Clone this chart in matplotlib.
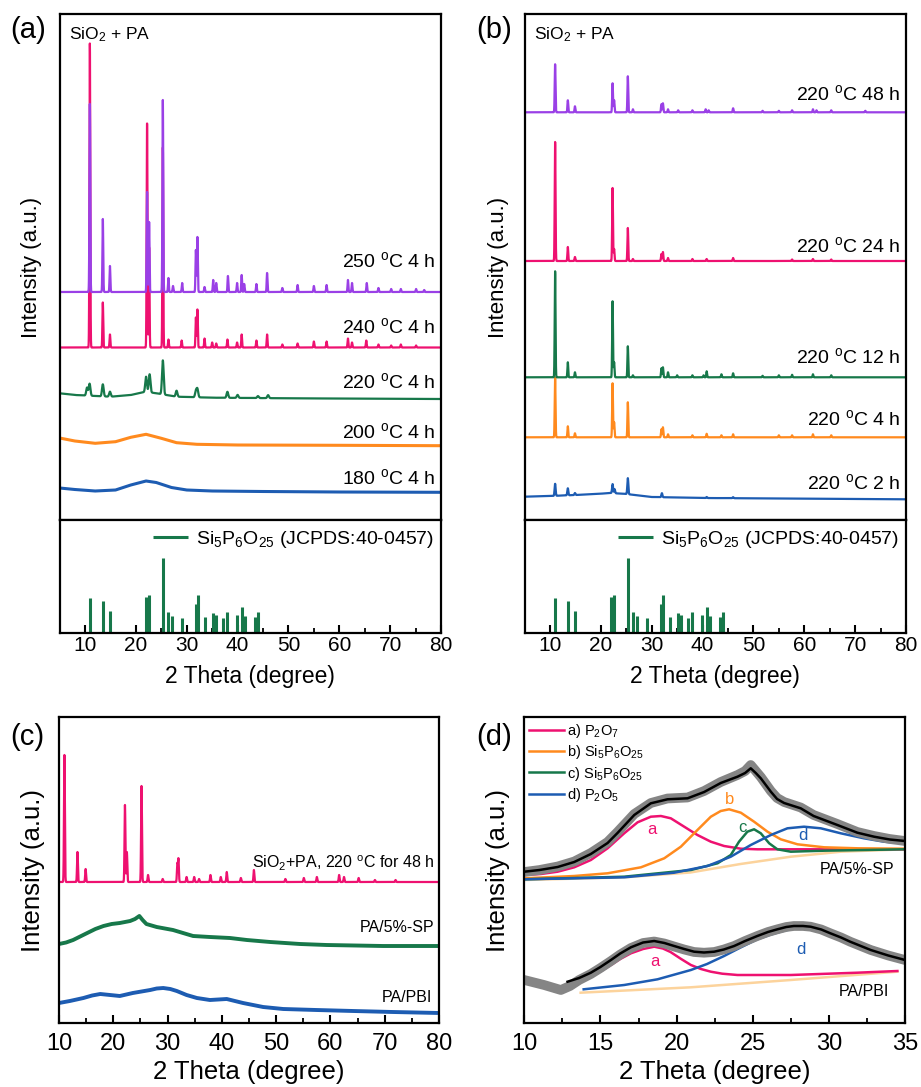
import numpy as np
import matplotlib
matplotlib.use('Agg')
import matplotlib.pyplot as plt
from matplotlib.ticker import MultipleLocator

plt.rcParams['font.family'] = ['Liberation Sans', 'DejaVu Sans']
plt.rcParams['mathtext.fontset'] = 'custom'
plt.rcParams['mathtext.rm'] = 'Liberation Sans'
plt.rcParams['mathtext.it'] = 'Liberation Sans:italic'
plt.rcParams['mathtext.bf'] = 'Liberation Sans:bold'

PURPLE = '#9a40e6'
PINK = '#ee1170'
GREEN = '#17784a'
ORANGE = '#ff8a1e'
BLUE = '#1d5cb2'
LIGHT_ORANGE = '#fcd39c'
GRAY = '#858585'

# ---------------- panel (a): SiO2 + PA, 4 h at different temperatures
A180_BASE_X = [5, 8, 12, 16, 19, 22, 24, 27, 30, 35, 45, 60, 80]
A180_BASE_Y = [32, 30.5, 29, 30, 35, 39, 37.5, 32.5, 30, 29, 28.5, 28, 27.7]
A200_BASE_X = [5, 8, 12, 16, 19, 22, 25, 28, 32, 40, 60, 80]
A200_BASE_Y = [82, 79, 76.7, 78.3, 82.7, 85.7, 81.7, 77.3, 75.7, 75, 74.7, 74.3]
A220_BASE_X = [5, 8, 15, 19, 22, 24, 28, 35, 50, 80]
A220_BASE_Y = [126.7, 125, 123.3, 125, 128.3, 126.7, 123.3, 122.3, 121.7, 121]
A220_PEAKS = [(10.4, 8), (10.9, 12), (13.5, 12), (14.9, 5), (22.0, 15), (22.7, 18),
              (25.3, 34), (28.0, 6), (31.8, 6), (32.1, 8), (38.0, 6), (40.0, 3),
              (44.0, 2), (46.0, 3)]
A240_BASE = 172.5
A240_PEAKS = [(10.95, 304), (13.5, 45), (14.9, 13), (22.2, 224), (22.6, 100), (25.3, 200),
              (26.4, 8), (29.0, 7), (31.8, 30), (32.1, 38), (33.5, 9), (35.0, 5),
              (35.8, 4), (38.0, 8), (39.9, 5), (40.8, 13), (43.7, 7), (45.8, 13),
              (48.8, 3), (51.8, 4), (55.0, 6), (57.5, 6), (61.7, 9), (62.5, 5),
              (65.3, 7), (67.7, 3), (70.2, 2), (72.1, 3), (75.1, 2)]
A250_BASE = 228
A250_PEAKS = [(10.95, 188), (13.5, 73), (14.9, 26), (22.2, 100), (22.6, 70), (25.3, 192),
              (26.4, 14), (27.3, 6), (29.1, 9), (31.8, 42), (32.1, 55), (33.5, 5),
              (35.2, 12), (35.8, 9), (38.1, 16), (39.9, 9), (40.8, 17), (41.3, 8),
              (43.7, 8), (45.8, 19), (48.8, 4), (51.8, 7), (55.0, 6), (57.5, 7),
              (61.7, 12), (62.5, 9), (65.4, 9), (67.7, 4), (70.2, 3), (72.1, 3),
              (75.1, 3), (76.7, 2)]
A_LABELS = ['180 $^{\\mathrm{o}}$C 4 h', '200 $^{\\mathrm{o}}$C 4 h', '220 $^{\\mathrm{o}}$C 4 h',
            '240 $^{\\mathrm{o}}$C 4 h', '250 $^{\\mathrm{o}}$C 4 h']
A_LABEL_Y = [42, 88, 138, 193, 259]

# ---------------- panel (b): SiO2 + PA, 220 C for different times
B2_BASE_X = [5, 10, 15, 19, 22, 25, 30, 40, 80]
B2_BASE_Y = [23.3, 24, 25, 26, 27, 26, 23, 22, 20.7]
B2_PEAKS = [(11.0, 12), (13.5, 7), (14.9, 2), (22.3, 9), (22.7, 4), (25.3, 16),
            (32.0, 4), (40.8, 1), (46.0, 1)]
B4_BASE = 82.7
B4_PEAKS = [(11.0, 60), (13.5, 11), (14.9, 4), (22.3, 54), (22.6, 15), (25.3, 35),
            (31.9, 8), (32.2, 10), (33.2, 3), (38.0, 2), (40.8, 3.5), (43.7, 2),
            (46.0, 3), (55.0, 2), (57.6, 2), (61.7, 3), (65.3, 2)]
B12_BASE = 142.7
B12_PEAKS = [(11.0, 106), (13.5, 15), (14.9, 5), (22.3, 76), (22.6, 15), (25.3, 31),
             (26.3, 2), (31.9, 9), (32.2, 10), (33.2, 5), (35.0, 2), (38.0, 2),
             (40.2, 2), (40.8, 6), (43.7, 3), (46.0, 4), (51.8, 1.5), (55.0, 2),
             (57.6, 2.5), (61.7, 3), (65.3, 2)]
B24_BASE = 259
B24_PEAKS = [(11.0, 119), (13.5, 14), (14.9, 4), (22.3, 73), (22.6, 12), (25.3, 33),
             (26.3, 2), (31.9, 7), (32.2, 9), (33.2, 3), (38.0, 2), (40.8, 2),
             (46.0, 3), (57.6, 1.5), (61.7, 2), (65.3, 1.5)]
B48_BASE = 407.7
B48_PEAKS = [(11.0, 48), (13.5, 12), (14.9, 6), (22.3, 29), (22.6, 12), (25.3, 36),
             (26.3, 3), (31.9, 8), (32.2, 9), (33.2, 3), (35.2, 2), (38.0, 2),
             (40.6, 3), (41.2, 2), (46.0, 4), (51.8, 1.5), (55.0, 1.5), (57.6, 2),
             (61.7, 3), (62.4, 2), (65.3, 2), (72.0, 1.5)]
B_LABELS = ['220 $^{\\mathrm{o}}$C 2 h', '220 $^{\\mathrm{o}}$C 4 h', '220 $^{\\mathrm{o}}$C 12 h',
            '220 $^{\\mathrm{o}}$C 24 h', '220 $^{\\mathrm{o}}$C 48 h']
B_LABEL_Y = [37, 101, 163, 274, 426]

# reference pattern Si5P6O25 (JCPDS 40-0457)
REF_POS = [10.9, 13.5, 14.9, 22.0, 22.5, 25.3, 26.3, 27.1, 29.1, 31.9, 32.2, 33.5,
           35.1, 35.8, 37.2, 38.0, 39.9, 40.8, 41.4, 43.5, 44.1]
REF_INT = [35, 32, 22, 36, 38, 75, 21, 17, 15, 29, 38, 16, 20, 18, 15, 21, 18, 26,
           17, 16, 21]

# ---------------- panel (c)
C_SP_BASE = 141
C_SP_PEAKS = [(11.0, 127), (13.4, 30), (14.9, 13), (22.15, 77), (22.5, 30), (25.2, 96),
              (26.4, 7), (29.1, 3), (31.8, 18), (32.0, 23), (33.5, 5), (34.9, 5),
              (35.8, 3), (37.9, 7), (39.8, 5), (40.9, 10), (43.5, 4), (45.9, 12),
              (51.7, 3), (55.1, 4), (57.5, 5), (61.6, 7), (62.5, 5), (65.2, 4),
              (68.2, 2), (72.0, 2)]
C_PASP_X = [10, 11.3, 12.6, 13.9, 15.2, 16.7, 18.2, 19.7, 21.2, 23.1, 24.0, 24.8, 25.4,
            26.1, 28, 31, 34.7, 37.8, 41.5, 44.6, 48.9, 54.4, 59.3, 69.7, 80]
C_PASP_Y = [79, 80.5, 83, 86.5, 90, 94, 97, 99, 100, 102, 104, 107, 103, 99, 96, 93, 87,
            86, 85, 83, 81, 79, 78, 77, 77]
C_PBI_X = [10, 12, 14.5, 16.1, 17.6, 19.4, 21.2, 23.6, 25.2, 26.8, 28.0, 29.2, 30.5,
           31.7, 33.5, 35.4, 37.8, 40.9, 43.9, 47.6, 51.3, 57.4, 64.2, 71.5, 80]
C_PBI_Y = [20, 22, 25, 27.5, 29, 28, 27, 30, 31.5, 33, 34.5, 35, 34, 32, 28, 25, 23, 24,
           20, 16, 14, 13, 12, 11, 10]

# ---------------- panel (d): peak fitting, PA/5%-SP (upper) and PA/PBI (lower)
D_SP_X = [10, 11.0, 12.19, 13.28, 14.37, 15.47, 16.12, 17.22, 18.31, 19.4, 20.72, 21.81,
          22.9, 24.0, 24.5, 24.87, 25.2, 25.53, 26.19, 26.6, 27.06, 28.15, 29.0, 30.56,
          31.87, 32.97, 34.0, 35]
D_SP_FIT_Y = [151.3, 153, 156, 161, 169, 180, 190, 208, 219.7, 223.7, 224.7, 231, 240,
              246.3, 250, 254.7, 250, 244.7, 231.3, 224, 220, 214.7, 207, 198, 190.3,
              186.3, 183.5, 182]
D_SP_RAW_Y = [151, 153, 156.5, 161.5, 170, 181, 191, 209, 220, 224.5, 225.5, 232, 241,
              248, 252, 258, 252, 246, 232, 225, 221, 215.5, 208, 199, 191, 187, 184,
              182]
D_SP_BG_X = [10, 16.6, 20.9, 24.2, 27.5, 30.8, 35]
D_SP_BG_Y = [143, 145.7, 150.5, 159, 166.3, 171.3, 173.7]
D_SP_A_X = [10, 11.09, 12.19, 13.28, 14.37, 15.47, 16.56, 17.44, 18.31, 18.97, 19.62,
            20.5, 21.37, 22.25, 23.12, 24.22, 25.3, 35]
D_SP_A_Y = [148, 149, 151.3, 155.7, 163, 174.7, 189.7, 200.7, 206.3, 207, 204.7, 196.3,
            188, 181.3, 177, 174.3, 173.7, 173.7]
D_SP_B_X = [10, 13.28, 15.47, 17.66, 19.19, 20.28, 21.37, 22.25, 22.9, 23.45, 24.22,
            25.09, 25.97, 26.84, 27.94, 29.69, 31.9, 35]
D_SP_B_Y = [144.7, 147, 149.7, 155.7, 164.7, 176.3, 193, 206.3, 212, 213.7, 210.3, 201.3,
            191.3, 183.7, 178.7, 175.7, 174.7, 174.3]
D_SP_C_X = [10, 16.56, 20.94, 22.69, 23.56, 24.1, 24.65, 25.09, 25.53, 26.08, 26.62,
            27.5, 29.7, 35]
D_SP_C_Y = [143.7, 146.3, 153, 159.7, 168, 181.3, 191.3, 193.7, 189.7, 179.7, 173.7,
            171.3, 172.3, 173.7]
D_SP_D_X = [10, 16.56, 19.84, 22.03, 23.56, 24.87, 26.19, 27.28, 28.37, 29.47, 30.78,
            32.3, 33.62, 35]
D_SP_D_Y = [143.7, 145.7, 150.3, 157, 166.3, 178, 188, 194.7, 196.3, 194.7, 189.7, 184.7,
            181.3, 179.7]

D_PBI_RAW_X = [10, 11.3, 12.4, 13.0, 13.6, 14.37, 15.0, 15.69, 16.3, 17.0, 17.8, 18.53,
               19.2, 19.84, 20.5, 21.15, 21.8, 22.47, 23.1, 23.78, 24.5, 25.3, 26.0,
               26.62, 27.2, 27.7, 28.3, 28.8, 29.5, 30.1, 30.8, 31.4, 32.1, 32.75, 33.9, 35]
D_PBI_RAW_Y = [43, 38, 33, 37, 43, 49, 55, 62, 68.5, 75, 80, 81.5, 79.5, 76.5, 73.5,
               71, 70.3, 71, 73.5, 77, 82, 87, 91, 93.7, 96, 97, 97, 96.3, 93.5, 89.7,
               85.5, 81.3, 77, 73, 67.5, 63]
D_PBI_FIT_X = [12.84, 13.6, 14.37, 15.0, 15.69, 16.3, 17.0, 17.8, 18.53, 19.2, 19.84,
               20.5, 21.15, 21.8, 22.47, 23.1, 23.78, 24.5, 25.3, 26.0, 26.62, 27.2,
               27.7, 28.3, 28.8, 29.5, 30.1, 30.8, 31.4, 32.1, 32.75, 33.9, 35]
D_PBI_FIT_Y = [41.3, 45, 50.3, 56, 63, 69.5, 75.7, 80.5, 82, 80, 77, 74, 71.3, 70.5,
               71.3, 73.5, 77, 82, 87, 91, 93.7, 96, 97, 97, 96.3, 93.5, 89.7, 85.5,
               81.3, 77, 73, 67.5, 63]
D_PBI_BG_X = [13.7, 20.94, 27.5, 34.5]
D_PBI_BG_Y = [30.3, 35.7, 43, 51.3]
D_PBI_A_X = [12.84, 13.6, 14.37, 15.0, 15.69, 16.3, 17.0, 17.8, 18.53, 19.1, 19.6, 20.3,
             20.94, 21.6, 22.25, 23.0, 24.0, 27.5, 31.87, 34.5]
D_PBI_A_Y = [38, 42, 46.3, 51.5, 58, 64, 69.7, 74, 76.3, 74.5, 71, 64, 58, 54, 51.3,
             49.3, 48, 48, 50.3, 52]
D_PBI_D_X = [13.9, 16.56, 18.75, 20.94, 22.0, 23.12, 24.2, 25.3, 26.2, 27.06, 28.0, 28.6,
             29.3, 30.1, 31.0, 31.87, 33.5, 35]
D_PBI_D_Y = [33.7, 38, 43.7, 53, 59, 67, 75.5, 83.7, 88.5, 92.3, 95.3, 95.7, 94.3, 91.3,
             87, 81.3, 72, 64.7]

D_LEGEND = ['a) P$_2$O$_7$', 'b) Si$_5$P$_6$O$_{25}$', 'c) Si$_5$P$_6$O$_{25}$',
            'd) P$_2$O$_5$']


def pattern(x, base, peaks, width):
    if np.ndim(base) == 0:
        y = np.full_like(x, float(base))
    else:
        y = np.interp(x, base[0], base[1])
    for pos, h in peaks:
        y = y + h * np.exp(-0.5 * ((x - pos) / width) ** 2)
    return y


W, H = 921, 1087
fig = plt.figure(figsize=(W / 100, H / 100), dpi=100)


def box(l, t, r, b):
    return [l / W, 1 - b / H, (r - l) / W, (b - t) / H]


def frame(ax):
    for s in ax.spines.values():
        s.set_linewidth(1.6)
    ax.tick_params(left=False, labelleft=False, right=False, top=False)


def xrd_panel(l, r, traces, labels, label_y, letter, letter_x, ylab_x):
    up = fig.add_axes(box(l, 14, r, 520))
    low = fig.add_axes(box(l, 520, r, 633))
    x = np.arange(5, 80.001, 0.01)
    for base, peaks, width, color in traces:
        if peaks is None:
            up.plot(base[0], base[1], color=color, lw=2.2)
        else:
            up.plot(x, pattern(x, base, peaks, width), color=color, lw=1.6)
    for txt, yy in zip(labels, label_y):
        up.text(79.0, yy, txt, ha='right', va='center', fontsize=14)
    up.text(6.85, 485, 'SiO$_2$ + PA', ha='left', va='center', fontsize=12.5)
    up.set_xlim(5, 80)
    up.set_ylim(0, 506)
    frame(up)
    up.tick_params(bottom=False, labelbottom=False)

    low.vlines(REF_POS, 0, REF_INT, color=GREEN, lw=2.2,
               label='Si$_5$P$_6$O$_{25}$ (JCPDS:40-0457)')
    low.set_xlim(5, 80)
    low.set_ylim(0, 113)
    frame(low)
    low.xaxis.set_major_locator(MultipleLocator(10))
    low.xaxis.set_minor_locator(MultipleLocator(5))
    low.tick_params(axis='x', which='major', direction='in', length=6, width=1.5,
                    labelsize=15, pad=2.5)
    low.tick_params(axis='x', which='minor', direction='in', length=3.5, width=1.3)
    low.legend(loc='center right', bbox_to_anchor=(1.0, 0.83), frameon=False,
               fontsize=14, handlelength=1.8, handletextpad=0.4, borderaxespad=0.2,
               borderpad=0.2)
    cx = (l + r) / 2
    fig.text(cx / W, 1 - 676 / H, '2 Theta (degree)', ha='center', va='center',
             fontsize=16.5)
    fig.text(ylab_x / W, 1 - 267 / H, 'Intensity (a.u.)', rotation=90, ha='center',
             va='center', fontsize=16)
    fig.text(letter_x / W, 1 - 30 / H, letter, ha='center', va='center', fontsize=21)


xrd_panel(59.6, 441, [
    ((A180_BASE_X, A180_BASE_Y), None, None, BLUE),
    ((A200_BASE_X, A200_BASE_Y), None, None, ORANGE),
    ((A220_BASE_X, A220_BASE_Y), A220_PEAKS, 0.16, GREEN),
    (A240_BASE, A240_PEAKS, 0.08, PINK),
    (A250_BASE, A250_PEAKS, 0.08, PURPLE),
], A_LABELS, A_LABEL_Y, '(a)', 28, 32)

xrd_panel(524.6, 906, [
    ((B2_BASE_X, B2_BASE_Y), B2_PEAKS, 0.1, BLUE),
    (B4_BASE, B4_PEAKS, 0.08, ORANGE),
    (B12_BASE, B12_PEAKS, 0.08, GREEN),
    (B24_BASE, B24_PEAKS, 0.08, PINK),
    (B48_BASE, B48_PEAKS, 0.08, PURPLE),
], B_LABELS, B_LABEL_Y, '(b)', 494, 498)

# ---------------- panel (c)
axc = fig.add_axes(box(59, 717, 439, 1023))
xc = np.arange(10, 80.001, 0.01)
axc.plot(C_PBI_X, C_PBI_Y, color=BLUE, lw=2.8)
axc.plot(C_PASP_X, C_PASP_Y, color=GREEN, lw=2.8)
axc.plot(xc, pattern(xc, C_SP_BASE, C_SP_PEAKS, 0.08), color=PINK, lw=1.6)
axc.text(79.2, 160, 'SiO$_2$+PA, 220 $^{\\mathrm{o}}$C for 48 h', ha='right', va='center',
         fontsize=11.5)
axc.text(79.2, 95, 'PA/5%-SP', ha='right', va='center', fontsize=11.5)
axc.text(78.8, 26, 'PA/PBI', ha='right', va='center', fontsize=11.5)
axc.set_xlim(10, 80)
axc.set_ylim(0, 306)
frame(axc)
axc.xaxis.set_major_locator(MultipleLocator(10))
axc.xaxis.set_minor_locator(MultipleLocator(5))
axc.tick_params(axis='x', which='major', direction='in', length=6, width=1.5,
                labelsize=17, pad=7)
axc.tick_params(axis='x', which='minor', direction='in', length=3.5, width=1.3)
fig.text(249 / W, 1 - 1072 / H, '2 Theta (degree)', ha='center', va='center', fontsize=18.5)
fig.text(33 / W, 1 - 870 / H, 'Intensity (a.u.)', rotation=90, ha='center', va='center',
         fontsize=18.5)
fig.text(27 / W, 1 - 737 / H, '(c)', ha='center', va='center', fontsize=21)

# ---------------- panel (d)
axd = fig.add_axes(box(524.3, 717, 905, 1023))
axd.plot(D_SP_BG_X, D_SP_BG_Y, color=LIGHT_ORANGE, lw=1.8)
axd.plot(D_SP_A_X, D_SP_A_Y, color=PINK, lw=1.8, label=D_LEGEND[0])
axd.plot(D_SP_B_X, D_SP_B_Y, color=ORANGE, lw=1.8, label=D_LEGEND[1])
axd.plot(D_SP_C_X, D_SP_C_Y, color=GREEN, lw=1.8, label=D_LEGEND[2])
axd.plot(D_SP_D_X, D_SP_D_Y, color=BLUE, lw=1.8, label=D_LEGEND[3])
axd.plot(D_SP_X, D_SP_RAW_Y, color=GRAY, lw=7, solid_joinstyle='round')
axd.plot(D_SP_X, D_SP_FIT_Y, color='black', lw=1.8)

axd.plot(D_PBI_BG_X, D_PBI_BG_Y, color=LIGHT_ORANGE, lw=1.8)
axd.plot(D_PBI_A_X, D_PBI_A_Y, color=PINK, lw=1.8)
axd.plot(D_PBI_D_X, D_PBI_D_Y, color=BLUE, lw=1.8)
axd.plot(D_PBI_RAW_X, D_PBI_RAW_Y, color=GRAY, lw=7, solid_joinstyle='round')
axd.plot(D_PBI_FIT_X, D_PBI_FIT_Y, color='black', lw=1.8)

for lab, xx, yy, col in [('a', 18.4, 193, PINK), ('b', 23.45, 223, ORANGE),
                         ('c', 24.3, 196, GREEN), ('d', 28.3, 188, BLUE),
                         ('a', 18.6, 61, PINK), ('d', 28.15, 73, BLUE)]:
    axd.text(xx, yy, lab, color=col, ha='center', va='center', fontsize=12)
axd.text(34.3, 154, 'PA/5%-SP', ha='right', va='center', fontsize=11.5)
axd.text(33.95, 31, 'PA/PBI', ha='right', va='center', fontsize=11.5)
axd.legend(loc='upper left', bbox_to_anchor=(0, 1), frameon=False, fontsize=10.5,
           handlelength=2.35, handletextpad=0.25, labelspacing=0.22, borderaxespad=0.15,
           borderpad=0.2)
axd.set_xlim(10, 35)
axd.set_ylim(0, 306)
frame(axd)
axd.xaxis.set_major_locator(MultipleLocator(5))
axd.xaxis.set_minor_locator(MultipleLocator(2.5))
axd.tick_params(axis='x', which='major', direction='in', length=6, width=1.5,
                labelsize=17, pad=7)
axd.tick_params(axis='x', which='minor', direction='in', length=3.5, width=1.3)
fig.text(715 / W, 1 - 1072 / H, '2 Theta (degree)', ha='center', va='center', fontsize=18.5)
fig.text(498 / W, 1 - 870 / H, 'Intensity (a.u.)', rotation=90, ha='center', va='center',
         fontsize=18.5)
fig.text(494 / W, 1 - 737 / H, '(d)', ha='center', va='center', fontsize=21)

fig.savefig('out.png', dpi=100)
